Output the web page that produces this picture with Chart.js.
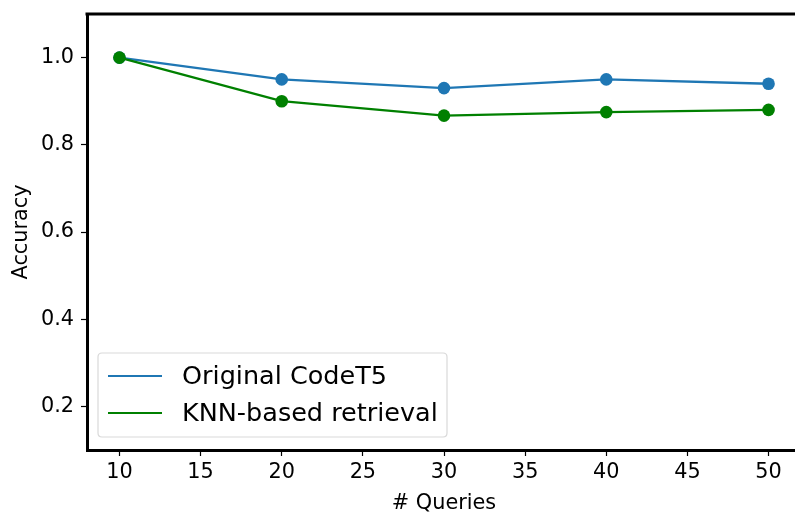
<!DOCTYPE html>
<html>
<head>
<meta charset="utf-8">
<script src="https://cdn.jsdelivr.net/npm/chart.js@4/dist/chart.umd.min.js"></script>
<style>
html,body{margin:0;padding:0;overflow:hidden;background:#fff;width:795px;height:514px;}
canvas{display:block;}
</style>
</head>
<body>
<canvas id="c" width="812" height="514"></canvas>
<script>
const queries = [10, 20, 30, 40, 50];
const originalCodeT5 = [1.0, 0.95, 0.93, 0.95, 0.94];
const knnRetrieval = [1.0, 0.90, 0.867, 0.875, 0.88];
const xTicks = [10, 15, 20, 25, 30, 35, 40, 45, 50];
const yTicks = [0.2, 0.4, 0.6, 0.8, 1.0];
const seriesNames = ['Original CodeT5', 'KNN-based retrieval'];
const seriesColors = ['#1f77b4', '#008000'];

const FONT = "'DejaVu Sans', sans-serif";

const legendPlugin = {
  id: 'boxLegend',
  afterDraw(chart) {
    const ctx = chart.ctx;
    const a = chart.chartArea;
    const x0 = a.left + 11, y0 = a.bottom - 97, w = 349, h = 84;
    ctx.save();
    ctx.fillStyle = 'rgba(255,255,255,0.8)';
    ctx.strokeStyle = '#d9d9d9';
    ctx.lineWidth = 1.2;
    const r = 4;
    ctx.beginPath();
    ctx.moveTo(x0 + r, y0);
    ctx.lineTo(x0 + w - r, y0);
    ctx.quadraticCurveTo(x0 + w, y0, x0 + w, y0 + r);
    ctx.lineTo(x0 + w, y0 + h - r);
    ctx.quadraticCurveTo(x0 + w, y0 + h, x0 + w - r, y0 + h);
    ctx.lineTo(x0 + r, y0 + h);
    ctx.quadraticCurveTo(x0, y0 + h, x0, y0 + h - r);
    ctx.lineTo(x0, y0 + r);
    ctx.quadraticCurveTo(x0, y0, x0 + r, y0);
    ctx.closePath();
    ctx.fill();
    ctx.stroke();
    ctx.font = "25.5px " + FONT;
    ctx.textBaseline = 'middle';
    for (let i = 0; i < seriesNames.length; i++) {
      const yy = y0 + 23 + i * 37;
      ctx.strokeStyle = seriesColors[i];
      ctx.lineWidth = 2.2;
      ctx.beginPath();
      ctx.moveTo(x0 + 10, yy);
      ctx.lineTo(x0 + 64, yy);
      ctx.stroke();
      ctx.fillStyle = '#000';
      ctx.fillText(seriesNames[i], x0 + 84, yy + 1);
    }
    ctx.restore();
  }
};

const topSpine = {
  id: 'topSpine',
  afterDatasetsDraw(chart) {
    const ctx = chart.ctx, a = chart.chartArea;
    ctx.save();
    ctx.strokeStyle = '#000';
    ctx.lineWidth = 3;
    ctx.beginPath();
    ctx.moveTo(a.left - 1.5, a.top);
    ctx.lineTo(a.right + 1.5, a.top);
    ctx.moveTo(a.right, a.top);
    ctx.lineTo(a.right, a.bottom);
    ctx.stroke();
    ctx.restore();
  }
};

new Chart(document.getElementById('c'), {
  type: 'line',
  data: {
    datasets: [
      {
        label: seriesNames[0],
        data: queries.map((q, i) => ({x: q, y: originalCodeT5[i]})),
        borderColor: seriesColors[0],
        backgroundColor: seriesColors[0],
        borderWidth: 2.3,
        pointRadius: 6.3,
        pointBorderWidth: 0,
        order: 1
      },
      {
        label: seriesNames[1],
        data: queries.map((q, i) => ({x: q, y: knnRetrieval[i]})),
        borderColor: seriesColors[1],
        backgroundColor: seriesColors[1],
        borderWidth: 2.3,
        pointRadius: 6.3,
        pointBorderWidth: 0,
        order: 0
      }
    ]
  },
  options: {
    responsive: false,
    animation: false,
    layout: { autoPadding: false, padding: { top: 14, right: 11, left: 0, bottom: 0 } },
    plugins: { legend: { display: false }, tooltip: { enabled: false } },
    scales: {
      x: {
        type: 'linear',
        min: 8, max: 52,
        afterBuildTicks(s) { s.ticks = xTicks.map(v => ({value: v})); },
        afterFit(s) { s.height = 64; s.paddingLeft = 0; s.paddingRight = 0; },
        grid: { display: true, drawOnChartArea: false, drawTicks: true, tickLength: 6, tickColor: '#000', tickWidth: 1.2 },
        border: { display: true, color: '#000', width: 3 },
        ticks: { color: '#000', font: { family: FONT, size: 20.8 }, padding: 4, maxRotation: 0, callback: v => String(v) },
        title: { display: true, text: '# Queries', color: '#000', font: { family: FONT, size: 20.8 }, padding: { top: 4, bottom: -2 } }
      },
      y: {
        type: 'linear',
        min: 0.1, max: 1.1,
        afterBuildTicks(s) { s.ticks = yTicks.map(v => ({value: v})); },
        afterFit(s) { s.width = 87; s.paddingTop = 0; s.paddingBottom = 0; },
        grid: { display: true, drawOnChartArea: false, drawTicks: true, tickLength: 6, tickColor: '#000', tickWidth: 1.2 },
        border: { display: true, color: '#000', width: 3 },
        ticks: { color: '#000', font: { family: FONT, size: 20.8 }, padding: 7, callback: v => Number(v).toFixed(1) },
        title: { display: true, text: 'Accuracy', color: '#000', font: { family: FONT, size: 20.8 }, padding: { top: 9, bottom: 4 } }
      }
    }
  },
  plugins: [legendPlugin, topSpine]
});
</script>
</body>
</html>
